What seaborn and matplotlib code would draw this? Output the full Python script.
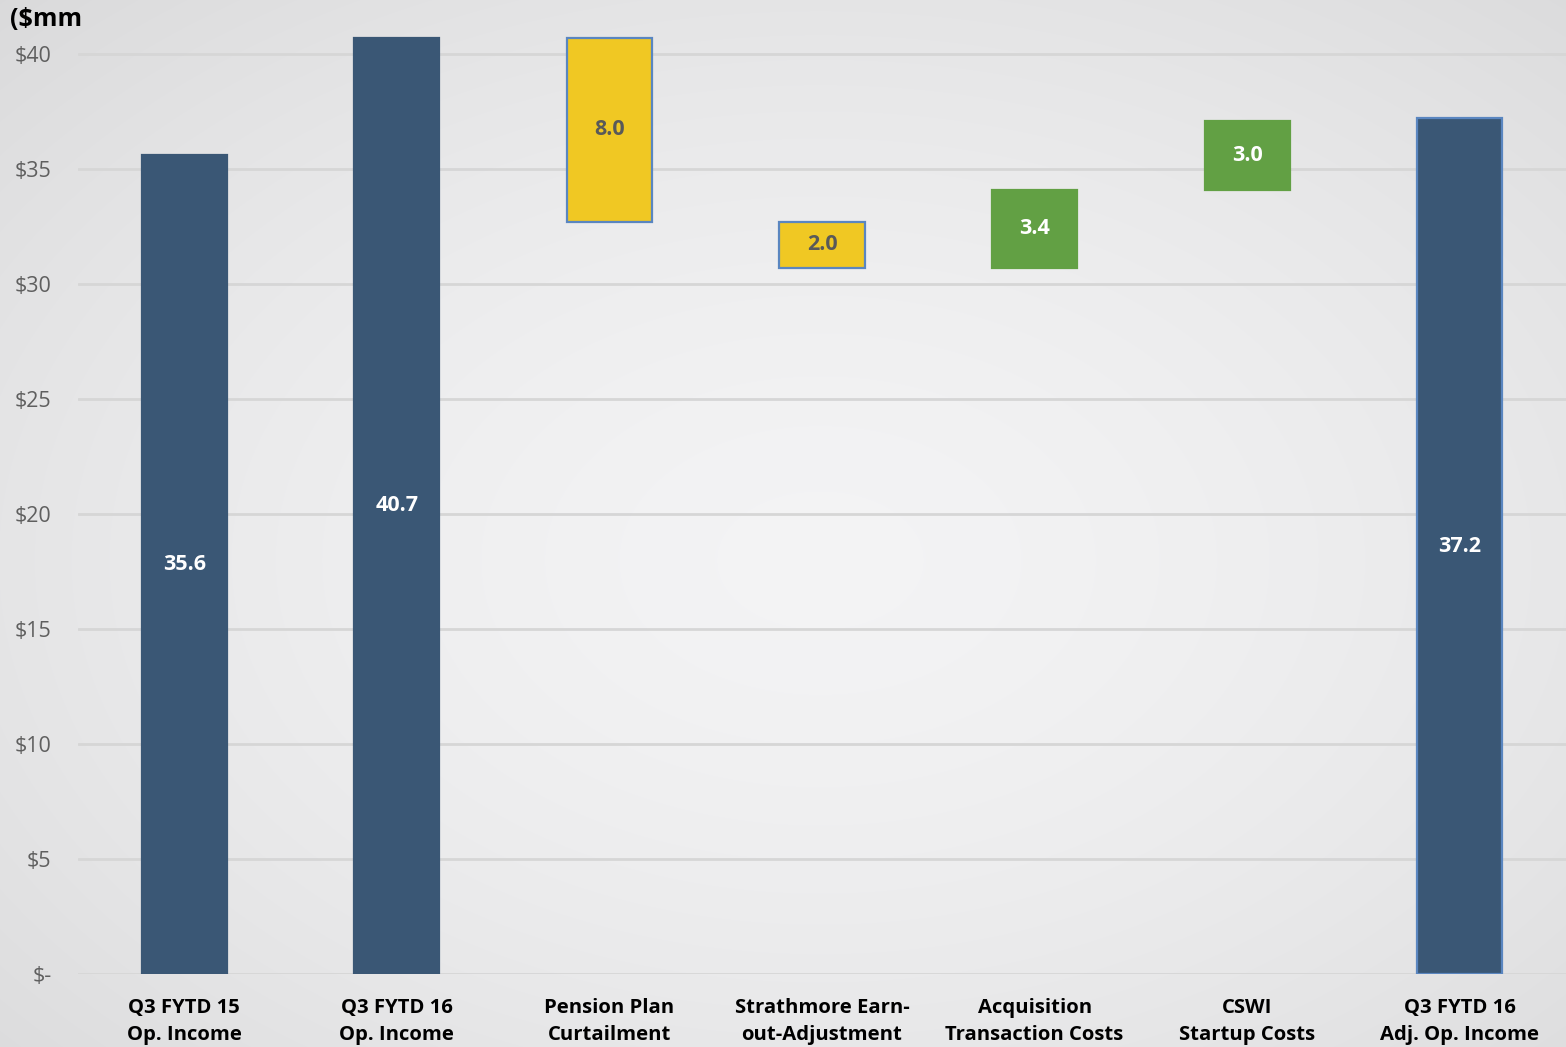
import numpy as np
import pandas as pd
import matplotlib
matplotlib.use("Agg")
import matplotlib.pyplot as plt
import seaborn as sns

# Waterfall components ($mm)
categories = [
    "Q3 FYTD 15\nOp. Income",
    "Q3 FYTD 16\nOp. Income",
    "Pension Plan\nCurtailment",
    "Strathmore Earn-\nout-Adjustment",
    "Acquisition\nTransaction Costs",
    "CSWI\nStartup Costs",
    "Q3 FYTD 16\nAdj. Op. Income",
]
bar_heights = [35.6, 40.7, 8.0, 2.0, 3.4, 3.0, 37.2]
bar_bases = [0.0, 0.0, 32.7, 30.7, 30.7, 34.1, 0.0]
bar_labels = ["35.6", "40.7", "8.0", "2.0", "3.4", "3.0", "37.2"]
y_ticks = [0, 5, 10, 15, 20, 25, 30, 35, 40]
y_tick_labels = ["$-", "$5", "$10", "$15", "$20", "$25", "$30", "$35", "$40"]

NAVY = "#3A5775"
YELLOW = "#F0C823"
GREEN = "#62A044"
EDGE_BLUE = "#5A86C0"
face_colors = [NAVY, NAVY, YELLOW, YELLOW, GREEN, GREEN, NAVY]
edge_colors = [NAVY, NAVY, EDGE_BLUE, EDGE_BLUE, GREEN, GREEN, EDGE_BLUE]
label_colors = ["white", "white", "#595959", "#595959", "white", "white", "white"]

sns.set_theme(style="white")
plt.rcParams["font.family"] = ["Open Sans", "DejaVu Sans"]

W, H = 1566, 1047
fig = plt.figure(figsize=(W / 100, H / 100), dpi=100)

# Soft radial grey backdrop
bg = fig.add_axes([0, 0, 1, 1], zorder=-10)
yy, xx = np.mgrid[0:H, 0:W]
r = np.sqrt(((xx - 820) / W) ** 2 + ((yy - 560) / H) ** 2)
shade = 0.955 - 0.16 * r ** 1.6
bg.imshow(np.dstack([shade, shade, shade + 0.004]).clip(0, 1), aspect="auto",
          extent=[0, 1, 0, 1], origin="upper")
bg.axis("off")

ax_left, ax_right = 78 / W, 1.0
y0_px, y40_px = 974, 54
ppu = (y0_px - y40_px) / 40
ymax = 40 + y40_px / ppu
ax = fig.add_axes([ax_left, 1 - y0_px / H, ax_right - ax_left, y0_px / H])
ax.patch.set_alpha(0)

df = pd.DataFrame({"category": categories, "height": bar_heights})
sns.barplot(data=df, x="category", y="height", bottom=bar_bases, width=0.4,
            color=NAVY, ax=ax, zorder=3)

for patch, fc, ec in zip(ax.patches, face_colors, edge_colors):
    patch.set_facecolor(fc)
    patch.set_edgecolor(ec)
    patch.set_linewidth(1.6)
    patch.set_alpha(1)

for i, (h, b, txt, c) in enumerate(zip(bar_heights, bar_bases, bar_labels, label_colors)):
    ax.text(i, b + h / 2, txt, ha="center", va="center", color=c,
            fontsize=15.5, fontweight="bold", zorder=4)

ax.set_xlim(-0.5, 6.5)
ax.set_ylim(0, ymax)
ax.set_yticks(y_ticks)
ax.set_yticklabels(y_tick_labels, color="#5F5F5F", fontsize=15.5)
ax.yaxis.grid(True, color="#D6D6D6", linewidth=2, zorder=0)
ax.set_axisbelow(True)
ax.tick_params(axis="y", length=0, pad=19)
ax.tick_params(axis="x", length=0, pad=17)
for lbl in ax.get_yticklabels():
    lbl.set_horizontalalignment("right")
ax.set_xticks(range(len(categories)))
ax.set_xticklabels(categories, fontsize=14.6, fontweight="bold", color="black",
                   linespacing=1.5, va="top")
ax.set_xlabel("")
ax.set_ylabel("")
for s in ax.spines.values():
    s.set_visible(False)

fig.text(10 / W, 1 - 19 / H, "($mm", fontsize=18, fontweight="bold",
         color="black", ha="left", va="center")

fig.savefig("out.png", dpi=100)
